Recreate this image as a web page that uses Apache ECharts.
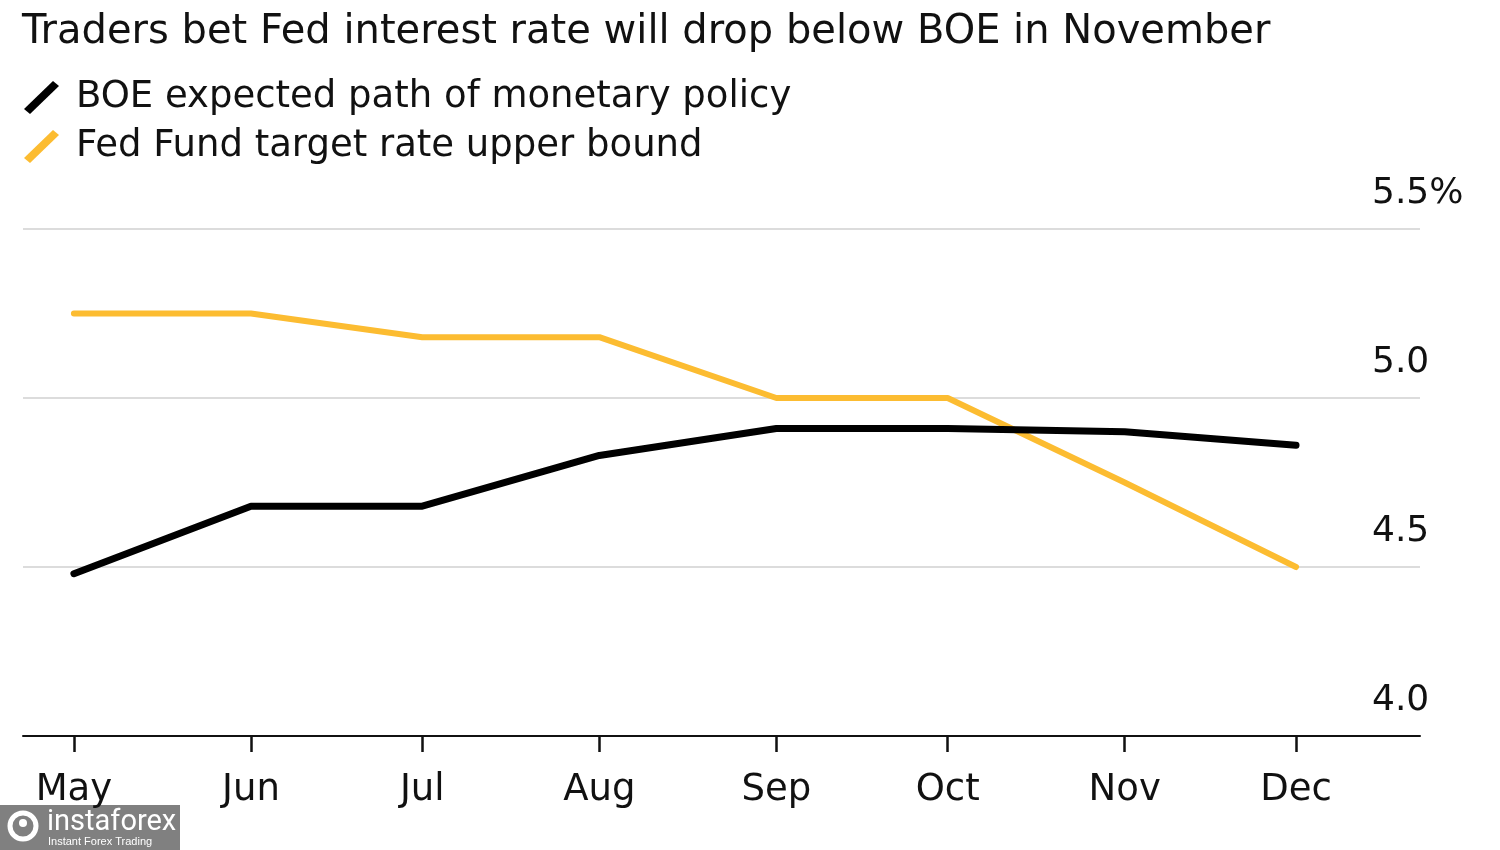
<!DOCTYPE html>
<html>
<head>
<meta charset="utf-8">
<script src="https://cdn.jsdelivr.net/npm/echarts@6/dist/echarts.min.js"></script>
<style>
  html, body { margin: 0; padding: 0; background: #fff; }
  #chart { width: 1500px; height: 850px; }
</style>
</head>
<body>
<div id="chart"></div>
<script>
// ---- data ----
const titleText = 'Traders bet Fed interest rate will drop below BOE in November';
const months = ['2024-05-01', '2024-06-01', '2024-07-01', '2024-08-01', '2024-09-01', '2024-10-01', '2024-11-01', '2024-12-01'];
const boeName = 'BOE expected path of monetary policy';
const fedName = 'Fed Fund target rate upper bound';
const boeValues = [4.48, 4.68, 4.68, 4.83, 4.91, 4.91, 4.90, 4.86];
const fedValues = [5.25, 5.25, 5.18, 5.18, 5.00, 5.00, 4.75, 4.50];
const yTicks = [4.0, 4.5, 5.0, 5.5];

const FONT = 'DejaVu Sans';
const chart = echarts.init(document.getElementById('chart'));

const pair = (vals) => months.map((m, i) => [m, vals[i]]);

chart.setOption({
  animation: false,
  backgroundColor: '#ffffff',
  title: {
    text: titleText,
    left: 22,
    top: 13,
    padding: 0,
    textStyle: { fontFamily: FONT, fontSize: 40, fontWeight: 'normal', color: '#111' }
  },
  legend: {
    data: [boeName, fedName],
    orient: 'vertical',
    left: 24,
    top: 79,
    padding: 0,
    itemWidth: 35,
    itemHeight: 33,
    itemGap: 12,
    icon: 'path://M0,28 L29,0 L35,5 L6,33 Z',
    textStyle: { fontFamily: FONT, fontSize: 37, color: '#111', padding: [0, 0, 0, 12] }
  },
  grid: { left: 23, right: 80, top: 229, bottom: 114, containLabel: false },
  xAxis: {
    type: 'time',
    min: '2024-04-22 02:00',
    max: '2024-12-22 17:00',
    splitNumber: 8,
    minInterval: 28 * 86400000,
    maxInterval: 31 * 86400000,
    axisLine: { show: true, lineStyle: { color: '#111', width: 2 } },
    axisTick: { show: true, length: 16, lineStyle: { color: '#111', width: 2.5 } },
    splitLine: { show: false },
    axisLabel: {
      formatter: '{MMM}',
      margin: 36,
      fontFamily: FONT,
      fontSize: 37,
      color: '#111'
    }
  },
  yAxis: {
    type: 'value',
    position: 'right',
    min: yTicks[0],
    max: yTicks[yTicks.length - 1],
    interval: 0.5,
    axisLine: { show: false },
    axisTick: { show: false },
    splitLine: { show: true, lineStyle: { color: '#dcdcdc', width: 2 } },
    axisLabel: {
      inside: true,
      margin: 48,
      align: 'left',
      verticalAlign: 'bottom',
      lineHeight: 71,
      fontFamily: FONT,
      fontSize: 36,
      color: '#111',
      formatter: (v) => (v === yTicks[yTicks.length - 1] ? v.toFixed(1) + '%' : v.toFixed(1))
    }
  },
  series: [
    {
      name: fedName,
      type: 'line',
      data: pair(fedValues),
      symbol: 'none',
      color: '#fcbc31',
      lineStyle: { color: '#fcbc31', width: 6, cap: 'round', join: 'round' },
      z: 2
    },
    {
      name: boeName,
      type: 'line',
      data: pair(boeValues),
      symbol: 'none',
      color: '#000000',
      lineStyle: { color: '#000000', width: 7, cap: 'round', join: 'round' },
      z: 3
    }
  ],
  graphic: [
    {
      type: 'group',
      left: 0,
      top: 805,
      children: [
        { type: 'rect', shape: { x: 0, y: 0, width: 180, height: 45 }, style: { fill: 'rgba(110,110,110,0.88)' } },
        { type: 'circle', shape: { cx: 23, cy: 21, r: 13 }, style: { fill: 'none', stroke: '#fff', lineWidth: 5 } },
        { type: 'circle', shape: { cx: 23, cy: 18, r: 4 }, style: { fill: '#fff' } },
        { type: 'text', x: 47, y: 3, style: { text: 'instaforex', fill: '#fff', fontFamily: 'Liberation Sans Narrow, Roboto, sans-serif', fontSize: 29 } },
        { type: 'text', x: 48, y: 31, style: { text: 'Instant Forex Trading', fill: '#fff', fontFamily: 'Liberation Sans, sans-serif', fontSize: 11 } }
      ]
    }
  ]
});
</script>
</body>
</html>
